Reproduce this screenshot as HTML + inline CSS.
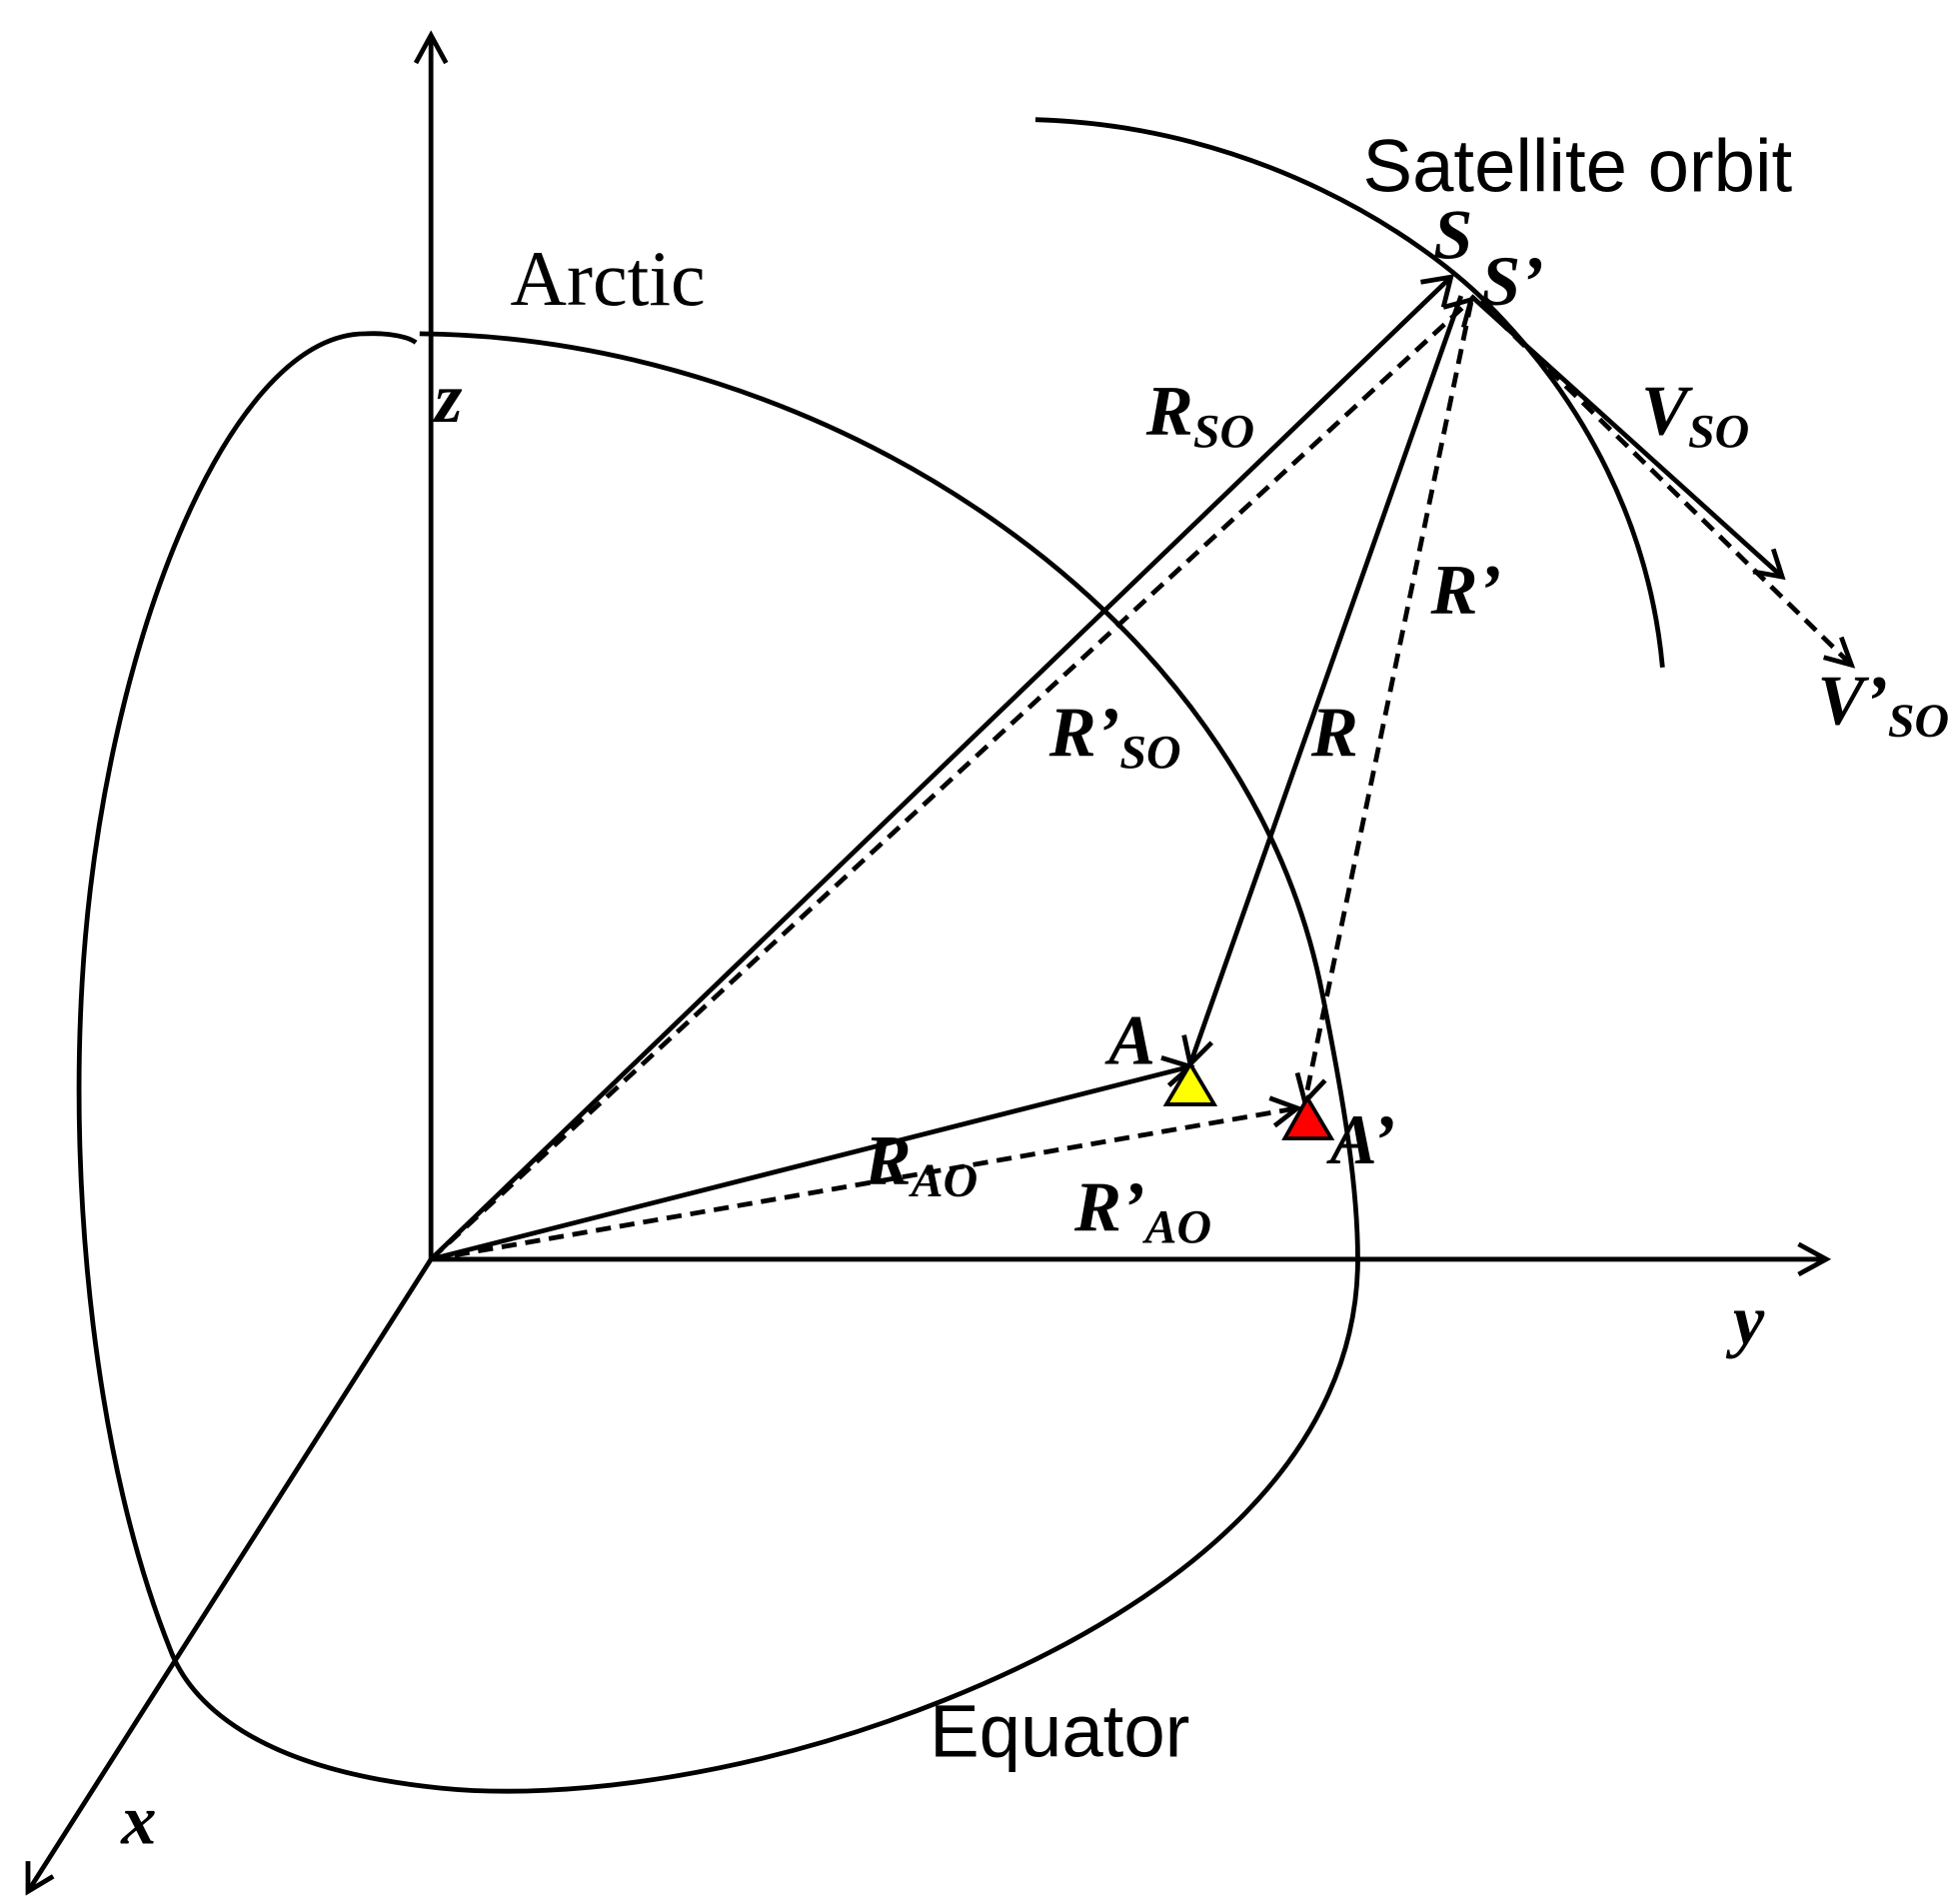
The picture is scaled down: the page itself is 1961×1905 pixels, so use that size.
<!DOCTYPE html>
<html><head><meta charset="utf-8"><style>
html,body{margin:0;padding:0;background:#fff;}
svg{display:block;}
.t{font-family:"Liberation Serif",serif;font-weight:bold;font-style:italic;font-size:56px;}
.s{font-family:"Liberation Sans",sans-serif;font-size:59px;}
</style></head><body>
<svg width="1961" height="1905" viewBox="0 0 1556 1512" xmlns="http://www.w3.org/2000/svg">
<g fill="none" stroke="#000" stroke-width="3.8">
<path d="M333,265 C650,268 990,480 1050,790 C1066,870 1078,940 1078,1000 C1078,1150 950,1270 750,1350 C600,1410 450,1430 350,1420 C200,1405 150,1350 135,1310 C75,1160 55,950 65,780 C80,520 180,265 290,265 C310,264 325,268 330,272"/>
<path d="M822,95 C1000,100 1130,190 1180,240 C1260,320 1310,420 1320,530"/>
<line x1="342" y1="1000" x2="342" y2="28"/>
<polyline points="330,50 342,28 354,50"/>
<line x1="342" y1="1000" x2="1450" y2="1000"/>
<polyline points="1428,988 1450,1000 1428,1012"/>
<line x1="342" y1="1000" x2="22" y2="1502"/>
<polyline points="22,1478 22,1502 42,1490"/>
<line x1="342" y1="1000" x2="1152" y2="220"/>
<polyline points="1128,224 1152,220 1146,244"/>
<line x1="1160" y1="235" x2="945" y2="845"/>
<polyline points="940,822 945,845 962,828"/>
<line x1="1168" y1="235" x2="1415" y2="458"/>
<polyline points="1392,454 1415,458 1408,436"/>
<line x1="342" y1="1000" x2="945" y2="847"/>
<polyline points="922,840 945,847 928,862"/>
<g stroke-dasharray="12,7">
<line x1="342" y1="1000" x2="1168" y2="238"/>
<line x1="1168" y1="240" x2="1036" y2="875"/>
<line x1="1175" y1="240" x2="1470" y2="528"/>
<line x1="342" y1="1000" x2="1030" y2="880"/>
</g>
<polyline points="1146,244 1168,238 1162,260"/>
<polyline points="1030,852 1036,875 1052,858"/>
<polyline points="1448,522 1470,528 1462,506"/>
<polyline points="1008,872 1030,880 1012,894"/>
</g>
<polygon points="945,845 926,877 964,877" fill="#ffff00" stroke="#000" stroke-width="3"/>
<polygon points="1038,872 1020,904 1057,904" fill="#ff0000" stroke="#000" stroke-width="3"/>
<text class="s" x="1082" y="152">Satellite orbit</text>
<text class="s" x="405" y="242" style="font-family:'Liberation Serif',serif;font-size:62px">Arctic</text>
<text class="s" x="738" y="1395">Equator</text>
<text class="t" x="345" y="335">z</text>
<text class="t" x="1138" y="205">S</text>
<text class="t" x="1176" y="242">S’</text>
<text class="t" x="910" y="345">R<tspan font-size="38" dy="10">SO</tspan></text>
<text class="t" x="1303" y="345">V<tspan font-size="38" dy="10">SO</tspan></text>
<text class="t" x="1136" y="487">R’</text>
<text class="t" x="1443" y="575">V’<tspan font-size="38" dy="10">SO</tspan></text>
<text class="t" x="833" y="600">R’<tspan font-size="38" dy="10">SO</tspan></text>
<text class="t" x="1041" y="600">R</text>
<text class="t" x="880" y="845">A</text>
<text class="t" x="1056" y="924">A’</text>
<text class="t" x="686" y="940">R<tspan font-size="38" dy="10">AO</tspan></text>
<text class="t" x="853" y="977">R’<tspan font-size="38" dy="10">AO</tspan></text>
<text class="t" x="1376" y="1067">y</text>
<text class="t" x="96" y="1464">x</text>
</svg>
</body></html>
